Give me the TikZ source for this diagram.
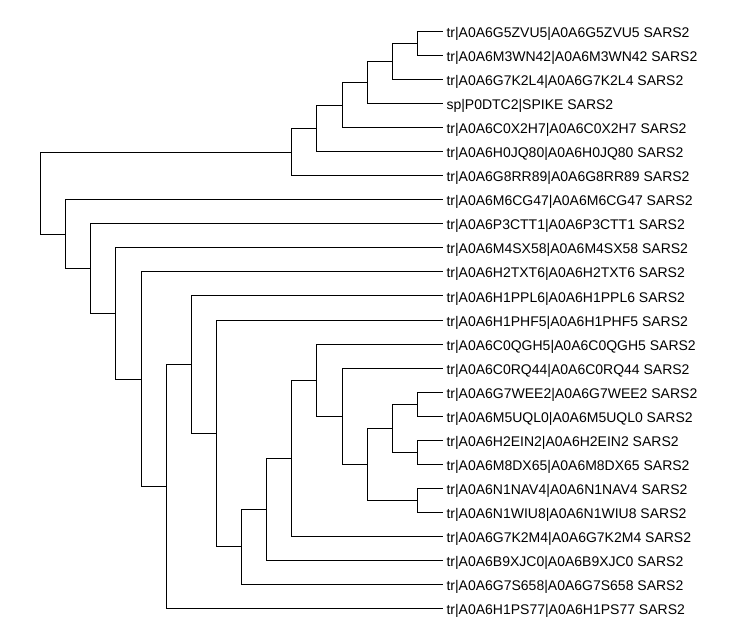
\documentclass[tikz,border=0pt]{standalone}
\usepackage{fontspec}
\setmainfont{Liberation Sans}
\begin{document}
\begin{tikzpicture}[x=1pt,y=-1pt,line width=1pt]
        \tikzstyle{every node}=[font=\fontsize{14}{16}\selectfont, anchor=base west, inner sep=0pt]
        \tikzstyle{tip}=[coordinate]
        \useasboundingbox (0,0) rectangle (744,644);

        % leaf tips
        \coordinate (t1) at (442.5,32);
        \coordinate (t2) at (442.5,56);
        \coordinate (t3) at (442.5,80);
        \coordinate (t4) at (442.5,104);
        \coordinate (t5) at (442.5,128);
        \coordinate (t6) at (442.5,152);
        \coordinate (t7) at (442.5,176);
        \coordinate (t8) at (442.5,200);
        \coordinate (t9) at (442.5,224);
        \coordinate (t10) at (442.5,248);
        \coordinate (t11) at (442.5,272);
        \coordinate (t12) at (442.5,296);
        \coordinate (t13) at (442.5,320);
        \coordinate (t14) at (442.5,344);
        \coordinate (t15) at (442.5,368);
        \coordinate (t16) at (442.5,392);
        \coordinate (t17) at (442.5,416);
        \coordinate (t18) at (442.5,440);
        \coordinate (t19) at (442.5,464);
        \coordinate (t20) at (442.5,488);
        \coordinate (t21) at (442.5,512);
        \coordinate (t22) at (442.5,536);
        \coordinate (t23) at (442.5,560);
        \coordinate (t24) at (442.5,584);
        \coordinate (t25) at (442.5,608);

        % upper clade
        \coordinate (a15) at (417.4,44);
        \coordinate (a14) at (392.25,62);
        \coordinate (a13) at (367.1,83);
        \coordinate (a12) at (342,105.5);
        \coordinate (a11) at (316.9,128.75);
        \coordinate (a10) at (291.75,152.4);

        % root
        \coordinate (root) at (40.5,193.4);

        % lower clade
        \coordinate (b1) at (65.6,234.4);
        \coordinate (b2) at (90.75,268.8);
        \coordinate (b3) at (115.9,313.6);
        \coordinate (b4) at (141,379.2);
        \coordinate (b5) at (166.1,486.3);
        \coordinate (b6) at (191.25,364.6);
        \coordinate (b7) at (216.4,433.25);
        \coordinate (b8) at (241.5,546.5);
        \coordinate (b9) at (266.6,509);
        \coordinate (b10) at (291.75,458);
        \coordinate (b11) at (316.9,380);
        \coordinate (b12) at (342,416);
        \coordinate (b13) at (367.1,464);
        \coordinate (b14) at (392.25,428);
        \coordinate (c1) at (417.4,404);
        \coordinate (c2) at (417.4,452);
        \coordinate (b15) at (417.4,500);

        \draw (root) |- (a10);
        \draw (root) |- (b1);

        \draw (a10) |- (a11);  \draw (a10) |- (t7);
        \draw (a11) |- (a12);  \draw (a11) |- (t6);
        \draw (a12) |- (a13);  \draw (a12) |- (t5);
        \draw (a13) |- (a14);  \draw (a13) |- (t4);
        \draw (a14) |- (a15);  \draw (a14) |- (t3);
        \draw (a15) |- (t1);   \draw (a15) |- (t2);

        \draw (b1) |- (t8);    \draw (b1) |- (b2);
        \draw (b2) |- (t9);    \draw (b2) |- (b3);
        \draw (b3) |- (t10);   \draw (b3) |- (b4);
        \draw (b4) |- (t11);   \draw (b4) |- (b5);
        \draw (b5) |- (b6);    \draw (b5) |- (t25);
        \draw (b6) |- (t12);   \draw (b6) |- (b7);
        \draw (b7) |- (t13);   \draw (b7) |- (b8);
        \draw (b8) |- (b9);    \draw (b8) |- (t24);
        \draw (b9) |- (b10);   \draw (b9) |- (t23);
        \draw (b10) |- (b11);  \draw (b10) |- (t22);
        \draw (b11) |- (t14);  \draw (b11) |- (b12);
        \draw (b12) |- (t15);  \draw (b12) |- (b13);
        \draw (b13) |- (b14);  \draw (b13) |- (b15);
        \draw (b14) |- (c1);   \draw (b14) |- (c2);
        \draw (c1) |- (t16);   \draw (c1) |- (t17);
        \draw (c2) |- (t18);   \draw (c2) |- (t19);
        \draw (b15) |- (t20);  \draw (b15) |- (t21);

        % labels
        \node (G5ZVU5) at (446,38) {tr|A0A6G5ZVU5|A0A6G5ZVU5 SARS2};
        \node (M3WN42) at (446,62) {tr|A0A6M3WN42|A0A6M3WN42 SARS2};
        \node (G7K2L4) at (446,86) {tr|A0A6G7K2L4|A0A6G7K2L4 SARS2};
        \node (P0DTC2) at (446,110) {sp|P0DTC2|SPIKE SARS2};
        \node (C0X2H7) at (446,134) {tr|A0A6C0X2H7|A0A6C0X2H7 SARS2};
        \node (H0JQ80) at (446,158) {tr|A0A6H0JQ80|A0A6H0JQ80 SARS2};
        \node (G8RR89) at (446,182) {tr|A0A6G8RR89|A0A6G8RR89 SARS2};
        \node (M6CG47) at (446,206) {tr|A0A6M6CG47|A0A6M6CG47 SARS2};
        \node (P3CTT1) at (446,230) {tr|A0A6P3CTT1|A0A6P3CTT1 SARS2};
        \node (M4SX58) at (446,254) {tr|A0A6M4SX58|A0A6M4SX58 SARS2};
        \node (H2TXT6) at (446,278) {tr|A0A6H2TXT6|A0A6H2TXT6 SARS2};
        \node (H1PPL6) at (446,302) {tr|A0A6H1PPL6|A0A6H1PPL6 SARS2};
        \node (H1PHF5) at (446,326) {tr|A0A6H1PHF5|A0A6H1PHF5 SARS2};
        \node (C0QGH5) at (446,350) {tr|A0A6C0QGH5|A0A6C0QGH5 SARS2};
        \node (C0RQ44) at (446,374) {tr|A0A6C0RQ44|A0A6C0RQ44 SARS2};
        \node (G7WEE2) at (446,398) {tr|A0A6G7WEE2|A0A6G7WEE2 SARS2};
        \node (M5UQL0) at (446,422) {tr|A0A6M5UQL0|A0A6M5UQL0 SARS2};
        \node (H2EIN2) at (446,446) {tr|A0A6H2EIN2|A0A6H2EIN2 SARS2};
        \node (M8DX65) at (446,470) {tr|A0A6M8DX65|A0A6M8DX65 SARS2};
        \node (N1NAV4) at (446,494) {tr|A0A6N1NAV4|A0A6N1NAV4 SARS2};
        \node (N1WIU8) at (446,518) {tr|A0A6N1WIU8|A0A6N1WIU8 SARS2};
        \node (G7K2M4) at (446,542) {tr|A0A6G7K2M4|A0A6G7K2M4 SARS2};
        \node (B9XJC0) at (446,566) {tr|A0A6B9XJC0|A0A6B9XJC0 SARS2};
        \node (G7S658) at (446,590) {tr|A0A6G7S658|A0A6G7S658 SARS2};
        \node (H1PS77) at (446,614) {tr|A0A6H1PS77|A0A6H1PS77 SARS2};
\end{tikzpicture}
\end{document}
